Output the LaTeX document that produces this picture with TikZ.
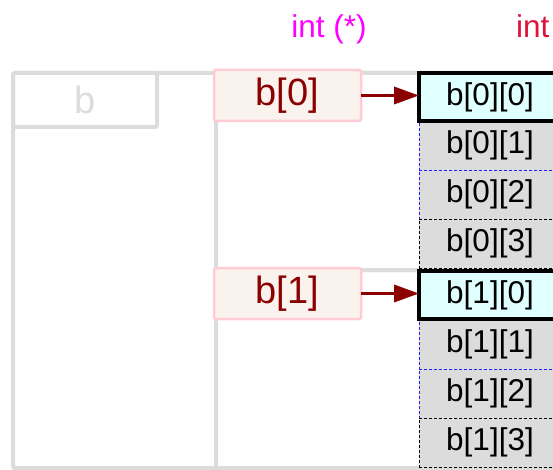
\documentclass[tikz,border=0pt]{standalone}
\usepackage{fontspec}
\setmainfont{Liberation Sans}
\usetikzlibrary{arrows.meta}
\definecolor{gline}{RGB}{220,220,220}
\definecolor{pinkb}{RGB}{255,204,213}
\definecolor{linenf}{RGB}{250,242,236}
\definecolor{dred}{RGB}{139,0,0}
\definecolor{lcyan}{RGB}{224,255,255}
\definecolor{gcell}{RGB}{220,220,220}
\definecolor{crim}{RGB}{220,20,60}
\definecolor{mag}{RGB}{255,0,255}
\definecolor{dblue}{RGB}{32,32,255}
\begin{document}
\begin{tikzpicture}[x=1pt,y=-1pt,
  every node/.style={inner sep=0pt,outer sep=0pt},
  grp/.style={draw=gline,line width=4pt,rounded corners=2pt,anchor=north west},
  lbl/.style={draw=pinkb,fill=linenf,line width=2.5pt,rounded corners=1.5pt,anchor=north west,
    minimum width=147pt,minimum height=51pt,text=dred,font=\fontsize{38}{42}\selectfont},
  cellbase/.style={anchor=north west,minimum width=142pt,font=\fontsize{31.5}{36}\selectfont},
  headcell/.style={cellbase,draw=black,fill=lcyan,line width=3.5pt,minimum height=48pt},
  bluecell/.style={cellbase,draw=dblue,fill=gcell,line width=0.8pt,dash pattern=on 3pt off 2pt,minimum height=49pt},
  blackcell/.style={cellbase,draw=black,fill=gcell,line width=0.8pt,dash pattern=on 3pt off 2pt,minimum height=49pt},
  arr/.style={draw=dred,line width=3.5pt,-{Triangle[length=25pt,width=17pt]}},
  typelbl/.style={anchor=base,font=\fontsize{31.5}{36}\selectfont}
]
\useasboundingbox (0,0) rectangle (553,470);
\clip (0,0) rectangle (553,470);

% type labels
\node[typelbl,text=mag] (tptr) at (329,38) {int (*)};
\node[typelbl,anchor=base west,text=crim] (tint) at (516,38) {int};

% outer b box and its label
\node[grp,minimum width=600pt,minimum height=395pt] (bbox) at (13,73) {};
\node[grp,minimum width=144pt,minimum height=54pt,text=gline,font=\fontsize{38}{42}\selectfont] (blbl) at (13,73) {b};

% group boxes b[0], b[1]
\node[grp,minimum width=500pt,minimum height=197pt] (g0) at (216,73) {};
\node[grp,minimum width=500pt,minimum height=198pt] (g1) at (216,270) {};

% labels b[0], b[1]
\node[lbl] (b0) at (214,70) {b[0]};
\node[lbl] (b1) at (214,268) {b[1]};

% cells of b[0]
\node[bluecell] (c01) at (419,121) {b[0][1]};
\node[bluecell] (c02) at (419,170) {b[0][2]};
\node[blackcell] (c03) at (419,219) {b[0][3]};
\node[headcell] (c00) at (419,73) {b[0][0]};

% cells of b[1]
\node[bluecell] (c11) at (419,320) {b[1][1]};
\node[bluecell] (c12) at (419,369) {b[1][2]};
\node[blackcell] (c13) at (419,418) {b[1][3]};
\node[headcell] (c10) at (419,271) {b[1][0]};

% pointers
\draw[arr] (b0.east) -- (b0.east -| c00.west);
\draw[arr] (b1.east) -- (b1.east -| c10.west);
\end{tikzpicture}
\end{document}
